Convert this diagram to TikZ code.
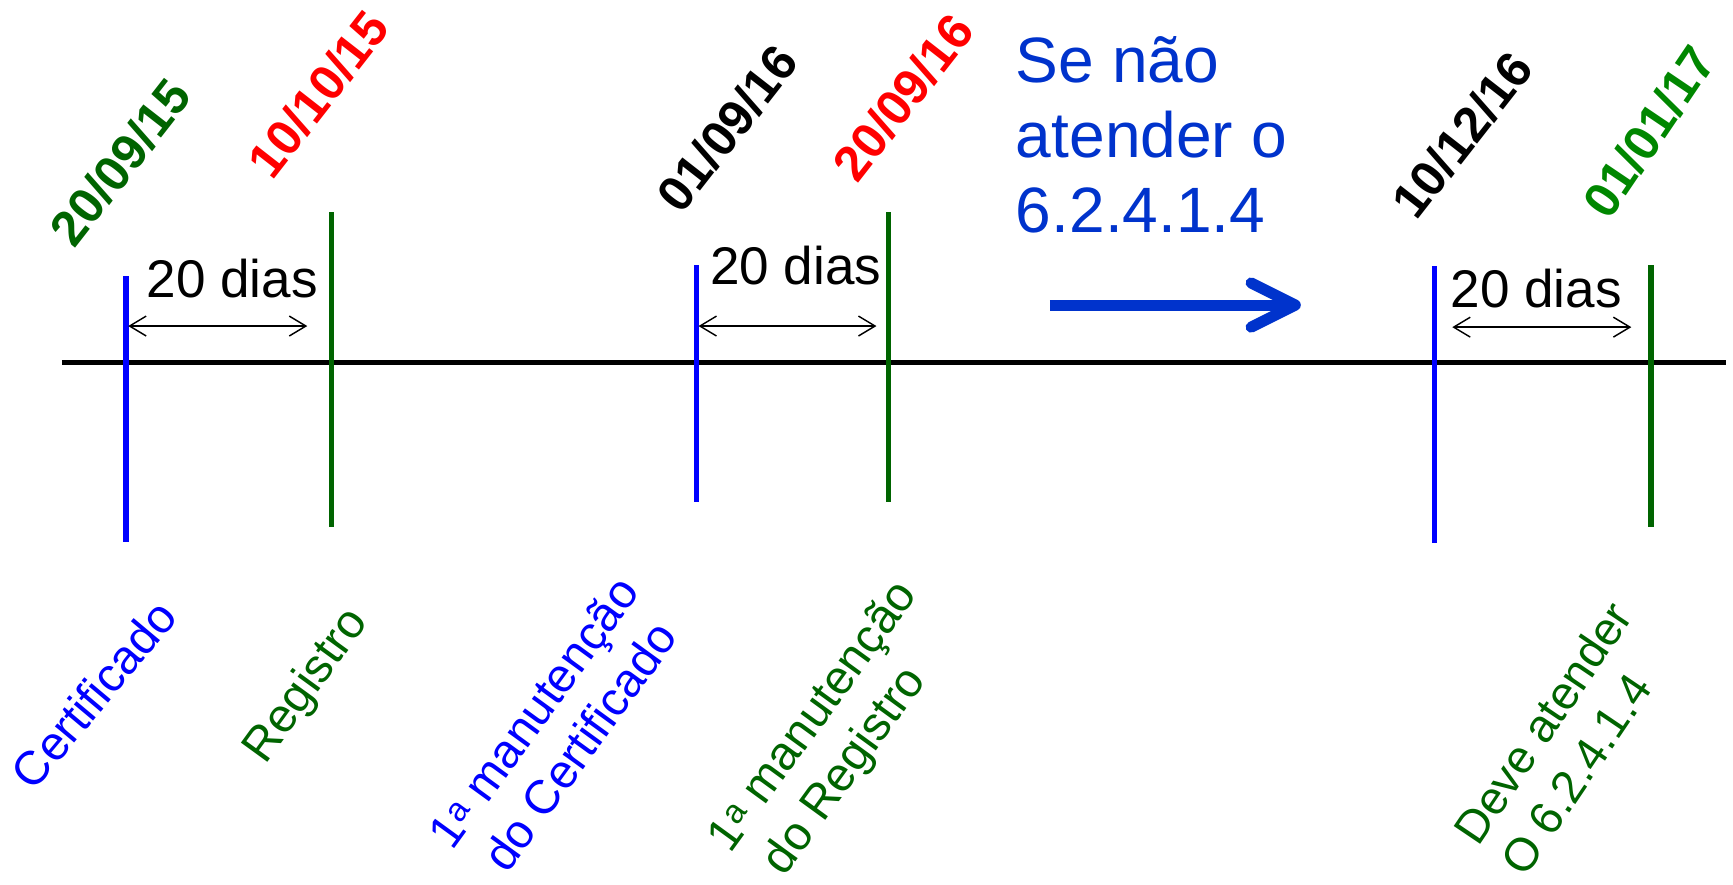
\documentclass[tikz,border=0pt]{standalone}
\usepackage{fontspec}
\setmainfont{Liberation Sans}
\usetikzlibrary{arrows.meta}
\definecolor{tblue}{RGB}{0,0,255}
\definecolor{tgreen}{RGB}{0,100,0}
\definecolor{lgreen}{RGB}{0,135,0}
\definecolor{tred}{RGB}{255,0,0}
\definecolor{sblue}{RGB}{0,51,204}
\begin{document}
\begin{tikzpicture}[x=1pt,y=-1pt,
  tick/.style={line width=5pt},
  span/.style={line width=1.3pt, {Straight Barb[length=15pt,width=18pt]}-{Straight Barb[length=15pt,width=18pt]}},
  datelbl/.style={font=\fontsize{45}{50}\selectfont\bfseries, inner sep=0pt, rotate=52},
  dias/.style={font=\fontsize{48}{54}\selectfont, inner sep=0pt},
  evlbl/.style={font=\fontsize{43}{52}\selectfont, inner sep=0pt, align=left},
]
\useasboundingbox (0,0) rectangle (1568,800);
% timeline
\coordinate (L0) at (56,328);
\coordinate (Lm) at (1001,328);
\coordinate (L1) at (1562,328);
\draw[line width=5pt] (L0) -- (Lm);
\draw[line width=5pt] (Lm) -- (L1);
% ticks
\coordinate (b1t) at (114,250); \coordinate (b1b) at (114,490);
\coordinate (g1t) at (300,192); \coordinate (g1b) at (300,477);
\coordinate (b2t) at (630,240); \coordinate (b2b) at (630,454);
\coordinate (g2t) at (804,192); \coordinate (g2b) at (804,454);
\coordinate (b3t) at (1298,241); \coordinate (b3b) at (1298,491);
\coordinate (g3t) at (1494,240); \coordinate (g3b) at (1494,477);
\draw[tick,tblue] (b1t) -- (b1b);
\draw[tick,tgreen] (g1t) -- (g1b);
\draw[tick,tblue] (b2t) -- (b2b);
\draw[tick,tgreen] (g2t) -- (g2b);
\draw[tick,tblue] (b3t) -- (b3b);
\draw[tick,tgreen] (g3t) -- (g3b);
% spans
\coordinate (s1l) at (116,295); \coordinate (s1r) at (278,295);
\coordinate (s2l) at (632,295); \coordinate (s2r) at (793,295);
\coordinate (s3l) at (1314,296); \coordinate (s3r) at (1476,296);
\draw[span] (s1l) -- (s1r);
\draw[span] (s2l) -- (s2r);
\draw[span] (s3l) -- (s3r);
\node[dias] (d1) at (210,252) {20 dias};
\node[dias] (d2) at (720,240) {20 dias};
\node[dias] (d3) at (1390,261) {20 dias};
% dates
\node[datelbl,tgreen] (t1) at (109,147) {20/09/15};
\node[datelbl,tred] (t2) at (288,85) {10/10/15};
\node[datelbl,black] (t3) at (658,116) {01/09/16};
\node[datelbl,tred] (t4) at (817,88) {20/09/16};
\node[datelbl,black] (t5) at (1323,122) {10/12/16};
\node[datelbl,lgreen,rotate=4] (t6) at (1492,119) {01/01/17};
% event labels
\node[evlbl,tblue,rotate=50] (e1) at (85,628) {Certificado};
\node[evlbl,tgreen,rotate=54] (e2) at (278,621) {Registro};
\node[evlbl,tblue,rotate=54] (e3) at (503.6,659.6) {1\textsuperscript{a} manutenção\\\hspace*{12pt}do Certificado};
\node[evlbl,tgreen,rotate=54] (e4) at (758,664.5) {1\textsuperscript{a} manutenção\\\hspace*{12pt}do Registro};
\node[evlbl,tgreen,rotate=56,font=\fontsize{42}{51}\selectfont] (e5) at (1417,668) {Deve atender\\O 6.2.4.1.4};
% condition text and arrow
\node[font=\fontsize{58}{68}\selectfont, text=sblue, inner sep=0pt, align=left, anchor=north west] (cond) at (919,33) {Se não\\atender o\\6.2.4.1.4};
\coordinate (a0) at (950,276);
\coordinate (a1) at (1172,276);
\coordinate (h1) at (1132,256);
\coordinate (h2) at (1132,296);
\draw[sblue, line width=10pt] (a0) -- (a1);
\draw[sblue, line width=10pt, line cap=round, line join=round] (h1) -- (a1) -- (h2);
\end{tikzpicture}
\end{document}
